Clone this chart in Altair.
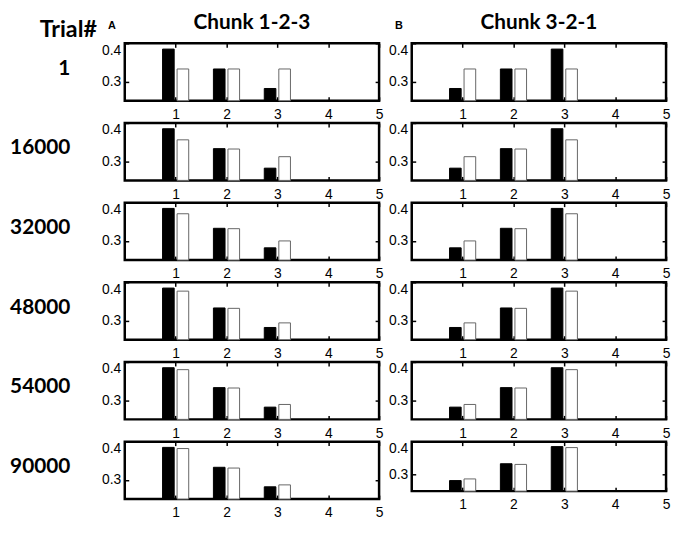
import altair as alt
import pandas as pd

# ---- data ----
trials = ["1", "16000", "32000", "48000", "54000", "90000"]
chunk_titles = ["Chunk 1-2-3", "Chunk 3-2-1"]
panel_letters = ["A", "B"]
positions = [1, 2, 3]
x_ticks = [1, 2, 3, 4, 5]
y_ticks = [0.3, 0.4]

black_chunk_123 = [0.385, 0.333, 0.282]
black_chunk_321 = [0.282, 0.333, 0.385]

white_chunk_123 = [
    [0.333, 0.333, 0.333],
    [0.356, 0.332, 0.312],
    [0.371, 0.332, 0.300],
    [0.377, 0.332, 0.294],
    [0.380, 0.332, 0.289],
    [0.382, 0.331, 0.287],
]
white_chunk_321 = [
    [0.333, 0.333, 0.333],
    [0.312, 0.332, 0.356],
    [0.300, 0.332, 0.371],
    [0.294, 0.332, 0.377],
    [0.289, 0.332, 0.380],
    [0.287, 0.331, 0.382],
]

black_vals = [black_chunk_123, black_chunk_321]
white_vals = [white_chunk_123, white_chunk_321]

# ---- layout / style constants ----
PANEL_W = 257
PANEL_H = 58
SHORT_H = 50
BAR_OFFSET = {"target": -0.1429, "learned": 0.1429}
BAR_HALF = 0.1143
FONT_BOLD = "Lato"
FONT_AXIS = "Liberation Sans"
AXIS_FS = 14

xscale = alt.Scale(domain=[0, 5], nice=False, zero=False)
yscale = alt.Scale(domain=[0.25, 0.4], nice=False, zero=False)


def make_panel(ci, ti):
    rows = []
    for p, b, w in zip(positions, black_vals[ci], white_vals[ci][ti]):
        rows.append({"pos": p, "series": "target", "value": b})
        rows.append({"pos": p, "series": "learned", "value": w})
    df = pd.DataFrame(rows)
    centre = df["pos"] + df["series"].map(BAR_OFFSET)
    df["x0"] = centre - BAR_HALF
    df["x1"] = centre + BAR_HALF

    h = SHORT_H if (ci == 1 and ti == len(trials) - 1) else PANEL_H

    bars = alt.Chart(df).mark_rect(strokeWidth=1).encode(
        x=alt.X("x0:Q", scale=xscale, title=None,
                axis=alt.Axis(orient="bottom", values=x_ticks, labelPadding=7,
                              labelFlush=False, offset=-4, tickSize=4,
                              labelFont=FONT_AXIS, labelFontSize=AXIS_FS)),
        x2="x1:Q",
        y=alt.Y("value:Q", scale=yscale, title=None,
                axis=alt.Axis(orient="left", values=y_ticks, format=".1f",
                              labelFlush=True, offset=-4, tickSize=4,
                              labelPadding=4, labelFont=FONT_AXIS,
                              labelFontSize=AXIS_FS)),
        y2=alt.datum(0.25),
        fill=alt.Fill("series:N", legend=None,
                      scale=alt.Scale(domain=["target", "learned"],
                                      range=["#000000", "#ffffff"])),
        stroke=alt.Stroke("series:N", legend=None,
                          scale=alt.Scale(domain=["target", "learned"],
                                          range=["#000000", "#666666"])),
    )

    frame = alt.Chart(df).mark_rect(opacity=0).encode(
        x=alt.X("x0:Q", scale=xscale, title=None,
                axis=alt.Axis(orient="top", values=x_ticks, labels=False,
                              offset=-4, tickSize=4)),
        x2="x1:Q",
        y=alt.Y("value:Q", scale=yscale, title=None,
                axis=alt.Axis(orient="right", values=y_ticks, labels=False,
                              offset=-4, tickSize=4)),
        y2=alt.datum(0.25),
    )

    layers = [bars, frame]

    if ci == 0:
        lab = pd.DataFrame({"label": [trials[ti]]})
        layers.append(
            alt.Chart(lab).mark_text(font=FONT_BOLD, fontWeight="bold", fontSize=21,
                                     align="right", baseline="middle", color="black")
            .encode(x=alt.value(-55), y=alt.value(h * 0.44), text="label:N")
        )

    if ti == 0:
        t = pd.DataFrame({"label": [chunk_titles[ci]]})
        layers.append(
            alt.Chart(t).mark_text(font=FONT_BOLD, fontWeight="bold", fontSize=21,
                                   align="center", baseline="alphabetic", color="black")
            .encode(x=alt.value(PANEL_W / 2), y=alt.value(-14), text="label:N")
        )
        l = pd.DataFrame({"label": [panel_letters[ci]]})
        layers.append(
            alt.Chart(l).mark_text(font=FONT_AXIS, fontWeight="bold", fontSize=11,
                                   align="left", baseline="alphabetic", color="black")
            .encode(x=alt.value(-17), y=alt.value(-15), text="label:N")
        )
        if ci == 0:
            tr = pd.DataFrame({"label": ["Trial#"]})
            layers.append(
                alt.Chart(tr).mark_text(font=FONT_BOLD, fontWeight="bold", fontSize=23.5,
                                        align="left", baseline="alphabetic", color="black")
                .encode(x=alt.value(-86), y=alt.value(-6.5), text="label:N")
            )

    return (
        alt.layer(*layers)
        .resolve_axis(x="independent", y="independent")
        .properties(width=PANEL_W, height=h)
    )


panels = []
for ti in range(len(trials)):
    for ci in range(2):
        panels.append(make_panel(ci, ti))

chart = (
    alt.concat(*panels, columns=2, spacing={"row": 22.5, "column": 33}, bounds="flush")
    .properties(padding=0, background="white")
    .configure_view(stroke="black", strokeWidth=2.5)
    .configure_axis(domain=False, grid=False, tickColor="black", tickWidth=1.5,
                    labelColor="black", labelFont=FONT_AXIS, labelFontSize=AXIS_FS)
)

chart.save("out.html", embed_options={"renderer": "svg", "actions": False})
